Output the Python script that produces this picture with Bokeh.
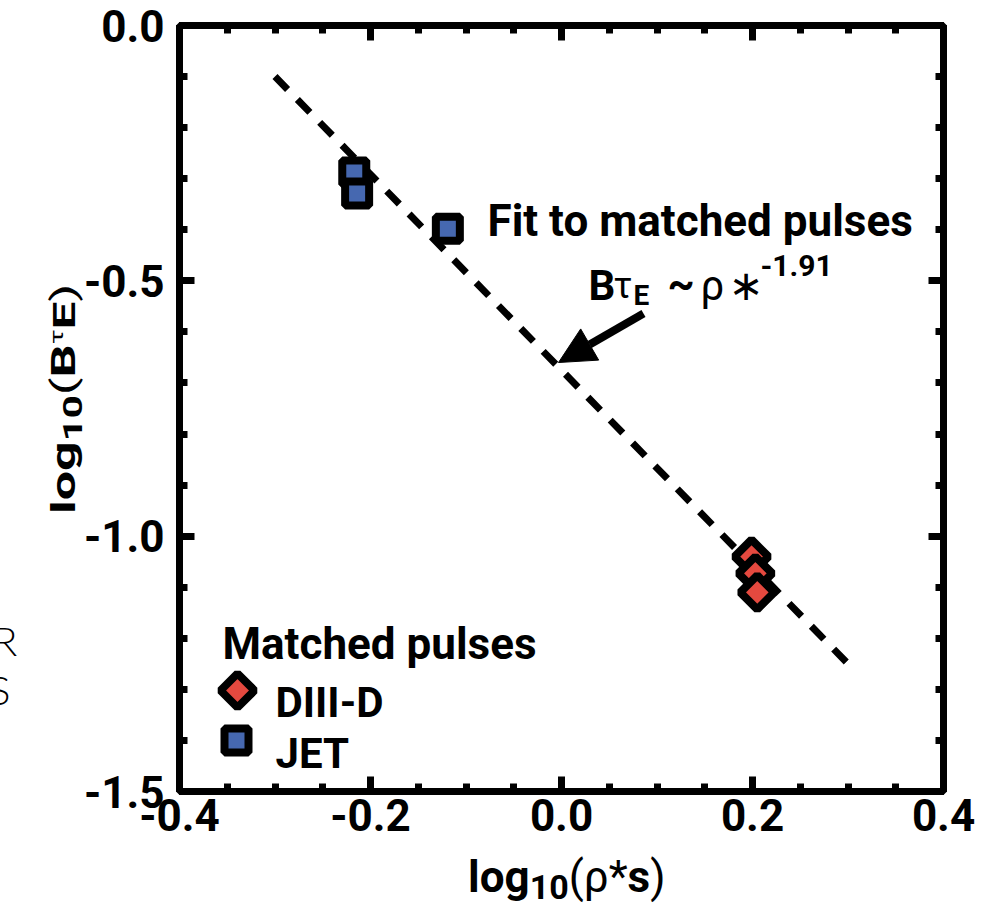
import math
from bokeh.plotting import figure
from bokeh.models import (Range1d, LinearAxis, SingleIntervalTicker, Label,
                          Arrow, NormalHead, NumeralTickFormatter,
                          CustomJSTickFormatter, Div)
from bokeh.layouts import column
from bokeh.embed import file_html
from bokeh.resources import INLINE

# ---------------- data ----------------
x_range_vals = [-0.4, 0.4]
y_range_vals = [-1.5, 0.0]

jet_x = [-0.217, -0.214, -0.119]
jet_y = [-0.288, -0.329, -0.398]

diiid_x = [0.199, 0.203, 0.205]
diiid_y = [-1.040, -1.073, -1.110]

fit_x = [-0.30, 0.30]
fit_y = [-0.10, -1.25]

legend_title = "Matched pulses"
legend_labels = ["DIII-D", "JET"]

# ---------------- style ----------------
BOLD = "Roboto, 'Liberation Sans', sans-serif"
SANS = "Roboto, 'Liberation Sans', sans-serif"
DEJA = "'DejaVu Sans', sans-serif"
RED = "#E5493F"
BLUE = "#4668B0"

W, H = 988, 909
FL, FR, FT, FB = 179, 943, 25, 791   # frame edges in pixels


def dx(px):
    return x_range_vals[0] + (px - FL) * (x_range_vals[1] - x_range_vals[0]) / (FR - FL)


def dy(py):
    return y_range_vals[1] - (py - FT) * (y_range_vals[1] - y_range_vals[0]) / (FB - FT)


p = figure(width=W, height=H, output_backend="svg", toolbar_location=None,
           x_range=Range1d(*x_range_vals), y_range=Range1d(*y_range_vals),
           min_border_left=FL, min_border_right=W - FR,
           min_border_top=FT, min_border_bottom=H - FB,
           background_fill_color="white", border_fill_color="white",
           outline_line_color="black", outline_line_width=7)
p.xgrid.visible = False
p.ygrid.visible = False

xt = SingleIntervalTicker(interval=0.2, num_minor_ticks=4)
yt = SingleIntervalTicker(interval=0.5, num_minor_ticks=5)


def style_axis(ax, labels=True):
    ax.axis_line_color = "black"
    ax.axis_line_width = 7
    ax.major_tick_line_color = "black"
    ax.major_tick_line_width = 7
    ax.minor_tick_line_color = "black"
    ax.minor_tick_line_width = 7
    ax.major_tick_in = 15
    ax.major_tick_out = 0
    ax.minor_tick_in = 8
    ax.minor_tick_out = 0
    if labels:
        ax.formatter = NumeralTickFormatter(format="0.0")
        ax.major_label_text_font = BOLD
        ax.major_label_text_font_style = "bold"
        ax.major_label_text_font_size = "44px"
        ax.major_label_text_color = "black"
    else:
        ax.formatter = CustomJSTickFormatter(code="return ''")
        ax.major_label_standoff = 0


xa = p.xaxis[0]
xa.ticker = xt
style_axis(xa)
xa.major_label_standoff = 7
ya = p.yaxis[0]
ya.ticker = yt
style_axis(ya)
ya.major_label_standoff = 15

top = LinearAxis(ticker=xt)
style_axis(top, labels=False)
p.add_layout(top, "above")
right = LinearAxis(ticker=yt)
style_axis(right, labels=False)
p.add_layout(right, "right")

# ---------------- glyphs ----------------
p.line(fit_x, fit_y, line_color="black", line_width=7, line_dash="18 14")

p.scatter(jet_x, jet_y, marker="square", size=24, fill_color=BLUE,
          line_color="black", line_width=8)
p.scatter(diiid_x, diiid_y, marker="square", angle=math.pi / 4, size=24,
          fill_color=RED, line_color="black", line_width=8)

# arrow
p.add_layout(Arrow(end=NormalHead(size=36, fill_color="black", line_color="black",
                                  line_width=1),
                   x_start=dx(643), y_start=dy(313), x_end=dx(558), y_end=dy(362),
                   line_color="black", line_width=8))


def lab(text, px, py, size, style="bold", font=BOLD):
    p.add_layout(Label(x=dx(px), y=dy(py), text=text, text_font=font,
                       text_font_size=f"{size}px", text_font_style=style,
                       text_color="black", text_align="left",
                       text_baseline="alphabetic"))


# annotation inside the frame
lab("Fit to matched pulses", 487, 220, 44)
lab("B", 588, 285, 42)
lab("τ", 613, 285, 36, "normal", SANS)
lab("E", 633, 295, 28)
lab("~", 667, 283, 42)
lab("ρ", 700, 285, 42, "normal", SANS)
lab("∗", 728, 285, 42, "normal", DEJA)
lab("-1.91", 760, 265, 30)

# legend
lab(legend_title, 222, 643, 44)
lab(legend_labels[0], 275, 702, 42)
lab(legend_labels[1], 275, 753, 42)
p.scatter([dx(237)], [dy(690)], marker="square", angle=math.pi / 4, size=24,
          fill_color=RED, line_color="black", line_width=8)
p.scatter([dx(236)], [dy(740)], marker="square", size=24, fill_color=BLUE,
          line_color="black", line_width=8)

# ---------------- axis titles (outside the frame, as HTML text) ----------------
def span(html, left, top, size, extra="", family="Roboto, sans-serif", weight="bold"):
    return (f'<span style="position:absolute;left:{left}px;top:{top}px;'
            f'font-family:{family};font-weight:{weight};font-size:{size}px;'
            f'line-height:1;white-space:nowrap;color:black;{extra}">{html}</span>')


N = 'font-weight:normal'
x_title = ('log<span style="font-size:34px;position:relative;top:7px">10</span>'
           f'<span style="{N}">(ρ*</span>s<span style="{N}">)</span>')
y_title = ('log<span style="font-size:34px;position:relative;top:10px">10</span>'
           f'<span style="{N}">(</span>B'
           f'<span style="{N};font-size:24px;position:relative;top:-16px">τ</span>'
           '<span style="font-size:42px">E</span>'
           f'<span style="{N}">)</span>')

LATO = "Lato, 'Noto Sans', sans-serif"
html = "".join([
    span(x_title, 463, 850, 44),
    span(y_title, 42, 509, 44,
         extra="transform-origin:0 0;transform:rotate(-90deg) scale(1.18,0.75);"),
    span("R", -12, 616, 40, family=LATO, weight="300"),
    span("S", -16, 665, 40, family=LATO, weight="300"),
])

overlay = Div(text=html, width=W, height=H,
              styles={"position": "absolute", "left": "0px", "top": "0px",
                      "pointer-events": "none", "z-index": "10"})

layout = column(p, overlay)
open("out.html", "w", encoding="utf-8").write(file_html(layout, INLINE))
